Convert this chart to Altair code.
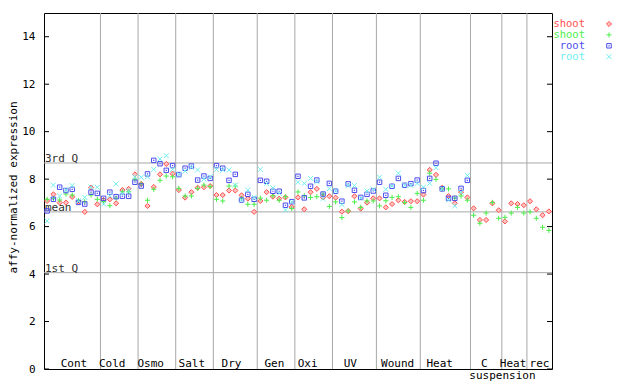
import altair as alt
import pandas as pd

# ---------------- data ----------------
groups = ["Cont", "Cold", "Osmo", "Salt", "Dry", "Gen", "Oxi", "UV", "Wound",
          "Heat", "C suspension", "Heat", "rec"]
group_sizes = [9, 6, 6, 6, 7, 6, 6, 7, 7, 8, 5, 4, 4]

shoot_1 = [7.08, 7.36, 7.01, 7.01, 7.25, 7.04, 6.62, 7.64, 6.94,
           7.12, 7.15, 6.98, 7.54, 7.59, 8.20,
           7.80, 6.87, 7.67, 8.20, 8.64, 8.23,
           7.54, 7.22, 7.45, 7.64, 7.66, 7.71,
           7.33, 7.33, 7.52, 7.52, 7.32, 7.18, 6.62,
           7.08, 7.45, 7.26, 7.18, 7.23, 6.83,
           7.23, 6.73, 7.45, 7.59, 7.23, 7.28,
           7.22, 6.63, 6.65, 7.28, 6.76, 7.01, 7.19,
           7.19, 6.81, 6.95, 7.11, 7.04, 7.07, 7.07,
           7.35, 8.39, 8.18, 7.64, 7.29, 6.98, 7.45, 7.23,
           6.77, 6.28, 6.28, 6.98, 6.69,
           6.22, 6.98, 6.95, 6.90,
           7.07, 6.73, 6.48, 6.64]
shoot_2 = [7.15, 7.18, 7.12, 7.37, 7.33, 7.10, 7.05, 7.33, 7.15,
           7.05, 6.88, 7.20, 7.47, 7.47, 8.00,
           7.80, 7.11, 7.57, 7.95, 8.13, 8.10,
           7.61, 7.29, 7.29, 7.61, 7.75, 7.69,
           7.15, 7.08, 7.71, 7.71, 7.19, 6.94, 6.94,
           7.20, 7.11, 7.30, 7.11, 7.26, 6.76,
           7.46, 7.30, 7.23, 7.26, 7.37, 6.85,
           7.04, 6.38, 6.66, 7.04, 6.81, 7.08, 7.08,
           6.87, 7.09, 7.23, 7.26, 7.01, 6.81, 7.40,
           7.11, 8.25, 7.99, 7.59, 7.59, 7.20, 7.29, 7.11,
           6.48, 6.14, 6.57, 7.02, 6.35,
           6.39, 6.57, 6.81, 6.57,
           6.62, 6.35, 5.97, 5.84]
root_1 = [6.66, 7.15, 7.66, 7.52, 7.57, 7.02, 6.95, 7.45, 7.40,
          7.19, 7.45, 7.26, 7.28, 7.28, 7.87,
          7.71, 8.22, 8.79, 8.65, 8.37, 8.57,
          8.19, 8.46, 8.55, 7.96, 8.13, 8.03,
          8.57, 8.46, 7.95, 8.20, 7.12, 7.36, 7.15,
          7.95, 7.91, 7.49, 7.49, 6.90, 7.05,
          8.12, 7.21, 7.70, 7.96, 7.37, 7.82,
          7.49, 7.07, 7.80, 7.53, 7.23, 7.36, 7.50,
          7.87, 7.32, 7.70, 8.03, 7.74, 7.81, 7.96,
          7.52, 8.03, 8.67, 7.59, 7.19, 7.19, 7.61, 7.95,
          None, None, None, None, None,
          None, None, None, None,
          None, None, None, None]
root_2 = [6.24, 7.75, 7.29, 7.54, 7.73, 7.09, 7.23, 7.66, 7.66,
          6.95, 7.30, 7.80, 7.40, 7.50, 8.10,
          8.08, 8.10, 8.41, 8.85, 8.99, 8.41,
          8.20, 8.34, 8.50, 8.39, 8.00, 8.10,
          8.41, 8.39, 8.39, 7.75, 7.12, 7.54, 7.23,
          8.41, 7.82, 7.63, 7.40, 6.70, 7.04,
          7.87, 7.82, 8.03, 7.90, 7.18, 7.60,
          7.50, 6.93, 7.73, 7.73, 7.20, 7.50, 7.57,
          8.08, 7.57, 7.70, 8.25, 7.74, 7.74, 7.82,
          7.66, 7.82, 8.48, 7.59, 7.12, 6.87, 7.45, 8.16,
          None, None, None, None, None,
          None, None, None, None,
          None, None, None, None]

series_names = ["shoot", "shoot", "root", "root"]
series_values = [shoot_1, shoot_2, root_1, root_2]

ref_names = ["3rd Q", "mean", "1st Q"]
ref_values = [8.68, 6.62, 4.06]
y_ticks = [0, 2, 4, 6, 8, 10, 12, 14]

# label text and its centre (in sample-index units), as drawn in the reference
label_text = ["Cont", "Cold", "Osmo", "Salt", "Dry", "Gen", "Oxi", "UV",
              "Wound", "Heat", "C", "Heat", "rec"]
label_center = [4.28, 10.38, 16.51, 23.06, 29.4, 36.23, 41.53, 48.35,
                55.88, 62.6, 69.7, 74.3, 78.5]
label2_text = ["suspension"]
label2_center = [72.6]

# ---------------- styling ----------------
colors = ["#ff5050", "#4cee4c", "#4c4cee", "#70eeee"]
fills = ["#ffc0c0", None, None, None]
shapes = ["diamond", "M-1,0L1,0M0,-1L0,1", "square", "M-1,-1L1,1M-1,1L1,-1"]
sizes = [26, 26, 20, 24]
FONT = "DejaVu Sans Mono"
W, H = 508, 356
n = sum(group_sizes)

xs = alt.Scale(domain=[-0.5, n - 0.5], nice=False, zero=False)
ys = alt.Scale(domain=[0, 15], nice=False, zero=False)
yaxis = alt.Axis(values=y_ticks, ticks=False, domain=False, grid=False,
                 labelFont=FONT, labelFontSize=11, labelColor="black",
                 labelPadding=9, title="affy-normalized expression",
                 titleFont=FONT, titleFontSize=11, titleFontWeight="normal",
                 titleColor="black", titleAngle=270, titleX=-31, titleY=H / 2 - 4,
                 titleAlign="center", titleBaseline="middle")


def marker(k):
    if fills[k]:
        return dict(shape=shapes[k], filled=True, fill=fills[k], stroke=colors[k],
                    size=sizes[k], strokeWidth=1, opacity=1)
    return dict(shape=shapes[k], filled=False, size=sizes[k], strokeWidth=1,
                color=colors[k], opacity=1)


# separators between groups
bounds = []
acc = 0
for s in group_sizes[:-1]:
    acc += s
    bounds.append(acc - 0.5)
sep_df = pd.DataFrame({"pos": bounds})
seps = alt.Chart(sep_df).mark_rule(color="#a8a8a8", strokeWidth=1).encode(
    x=alt.X("pos:Q", scale=xs, axis=None))

ref_df = pd.DataFrame({"name": ref_names, "v": ref_values})
refs = alt.Chart(ref_df).mark_rule(color="#a8a8a8", strokeWidth=1).encode(
    y=alt.Y("v:Q", scale=ys, axis=yaxis))
ref_txt = alt.Chart(ref_df).mark_text(align="left", baseline="alphabetic", dx=1, dy=-1,
                                      font=FONT, fontSize=11, color="#303030").encode(
    x=alt.value(0), y=alt.Y("v:Q", scale=ys, axis=yaxis), text="name:N")

tick_df = pd.DataFrame({"t": y_ticks})
ticks_l = alt.Chart(tick_df).mark_rule(color="black").encode(
    x=alt.value(0), x2=alt.value(5), y=alt.Y("t:Q", scale=ys, axis=yaxis))
ticks_r = alt.Chart(tick_df).mark_rule(color="black").encode(
    x=alt.value(W - 5), x2=alt.value(W), y=alt.Y("t:Q", scale=ys, axis=yaxis))

layers = [seps, refs, ref_txt, ticks_l, ticks_r]

for k, vals in enumerate(series_values):
    rows = [(i, v) for i, v in enumerate(vals) if v is not None]
    df = pd.DataFrame(rows, columns=["idx", "val"])
    layers.append(alt.Chart(df).mark_point(**marker(k)).encode(
        x=alt.X("idx:Q", scale=xs, axis=None),
        y=alt.Y("val:Q", scale=ys, axis=yaxis)))
    if shapes[k] == "square":
        layers.append(alt.Chart(df).mark_point(shape="square", filled=True, size=1.5,
                                               color=colors[k], opacity=1).encode(
            x=alt.X("idx:Q", scale=xs, axis=None),
            y=alt.Y("val:Q", scale=ys, axis=yaxis)))

lab_df = pd.DataFrame({"t": label_text, "p": label_center})
layers.append(alt.Chart(lab_df).mark_text(font=FONT, fontSize=11, color="black",
                                          baseline="middle", align="center").encode(
    x=alt.X("p:Q", scale=xs, axis=None), y=alt.value(H - 5), text="t:N"))
lab2_df = pd.DataFrame({"t": label2_text, "p": label2_center})
layers.append(alt.Chart(lab2_df).mark_text(font=FONT, fontSize=11, color="black",
                                           baseline="middle", align="center").encode(
    x=alt.X("p:Q", scale=xs, axis=None), y=alt.value(H + 7), text="t:N"))

# legend (top right, outside the plot)
for k, name in enumerate(series_names):
    ldf = pd.DataFrame({"t": [name]})
    yy = 11 + 10.9 * k
    layers.append(alt.Chart(ldf).mark_text(font=FONT, fontSize=10.5, color=colors[k],
                                           align="right", baseline="middle").encode(
        x=alt.value(W + 33), y=alt.value(yy), text="t:N"))
    if shapes[k] == "square":
        layers.append(alt.Chart(ldf).mark_point(shape="square", filled=True, size=1.5,
                                                color=colors[k], opacity=1).encode(
            x=alt.value(W + 57), y=alt.value(yy)))
    layers.append(alt.Chart(ldf).mark_point(**marker(k)).encode(
        x=alt.value(W + 57), y=alt.value(yy)))

chart = alt.layer(*layers).properties(
    width=W, height=H,
    autosize=alt.AutoSizeParams(type="none"),
    padding={"left": 36, "top": 5, "right": 80, "bottom": 15},
    background="white",
).configure_view(stroke="black", strokeWidth=1)

chart.save("out.html", embed_options={"renderer": "svg", "actions": False})
